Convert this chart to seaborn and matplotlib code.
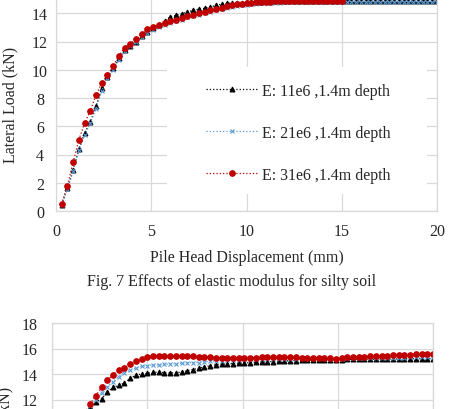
import matplotlib
matplotlib.use('Agg')
import matplotlib.pyplot as plt
from matplotlib.patches import Rectangle
import seaborn as sns

# Fig. 7 - silty soil, 1.4m depth
x_top = [0.3, 0.6, 0.9, 1.2, 1.5, 1.8, 2.1, 2.4, 2.7, 3.0,
         3.3, 3.6, 3.9, 4.2, 4.5, 4.8, 5.1, 5.4, 5.7, 6.0,
         6.3, 6.6, 6.9, 7.2, 7.5, 7.8, 8.1, 8.4, 8.7, 9.0,
         9.25, 9.5, 9.75, 10.0, 10.25, 10.5, 10.75, 11.0, 11.25, 11.5,
         11.75, 12.0, 12.25, 12.5, 12.75, 13.0, 13.25, 13.5, 13.75, 14.0,
         14.25, 14.5, 14.75, 15.0, 15.25, 15.5, 15.75, 16.0, 16.25, 16.5,
         16.75, 17.0, 17.25, 17.5, 17.75, 18.0, 18.25, 18.5, 18.75, 19.0,
         19.25, 19.5, 19.75, 20.0]

top_e11 = [0.45, 1.6, 2.9, 4.4, 5.5, 6.3, 7.4, 8.7, 9.5, 10.1,
           10.8, 11.4, 11.7, 12.0, 12.4, 12.7, 12.95, 13.2, 13.45, 13.75,
           13.85, 13.95, 14.1, 14.2, 14.3, 14.35, 14.45, 14.55, 14.65, 14.7,
           14.72, 14.74, 14.76, 14.78, 14.8, 14.82, 14.83, 14.84, 14.85, 14.86,
           14.86, 14.87, 14.87, 14.87, 14.88, 14.88, 14.88, 14.88, 14.88, 14.88,
           14.87, 14.87, 14.87, 14.87, 14.87, 14.87, 14.87, 14.87, 14.87, 14.87,
           14.86, 14.86, 14.86, 14.86, 14.86, 14.86, 14.86, 14.86, 14.86, 14.86,
           14.86, 14.86, 14.86, 14.86]

top_e21 = [0.45, 1.55, 2.8, 4.3, 5.35, 6.2, 7.25, 8.5, 9.4, 10.0,
           10.7, 11.3, 11.65, 11.95, 12.35, 12.6, 12.8, 13.0, 13.15, 13.3,
           13.45, 13.55, 13.7, 13.8, 13.9, 14.0, 14.1, 14.2, 14.3, 14.4,
           14.45, 14.5, 14.55, 14.6, 14.64, 14.67, 14.7, 14.72, 14.74, 14.75,
           14.76, 14.77, 14.78, 14.78, 14.79, 14.79, 14.79, 14.8, 14.8, 14.8,
           14.8, 14.8, 14.79, 14.79, 14.8, 14.8, 14.8, 14.79, 14.79, 14.8,
           14.8, 14.8, 14.79, 14.79, 14.8, 14.8, 14.8, 14.79, 14.79, 14.8,
           14.8, 14.8, 14.8, 14.8]

top_e31 = [0.5, 1.8, 3.45, 5.05, 6.2, 7.1, 8.2, 9.05, 9.65, 10.25,
           11.0, 11.55, 11.85, 12.15, 12.55, 12.85, 13.0, 13.15, 13.3, 13.45,
           13.55, 13.65, 13.8, 13.9, 14.0, 14.1, 14.2, 14.3, 14.4, 14.5,
           14.58, 14.63, 14.68, 14.72, 14.75, 14.78, 14.8, 14.82, 14.83, 14.84,
           14.85, 14.86, 14.87, 14.87, 14.88, 14.88, 14.88, 14.88, 14.89, 14.89,
           14.89, 14.89, 14.9, 14.9]

# next figure (only the top part is visible)
x_bot = [0.2, 0.5, 0.8, 1.1, 1.4, 1.7,
         2.0, 2.3, 2.6, 2.9, 3.2, 3.5, 3.8, 4.1, 4.4, 4.7,
         5.0, 5.3, 5.6, 5.9, 6.2, 6.5, 6.8, 7.1, 7.4, 7.7,
         8.0, 8.3, 8.6, 8.9, 9.2, 9.5, 9.8, 10.1, 10.4, 10.7,
         11.0, 11.3, 11.6, 11.9, 12.2, 12.5, 12.8, 13.1, 13.4, 13.7,
         14.0, 14.3, 14.6, 14.9, 15.2, 15.5, 15.8, 16.1, 16.4, 16.7,
         17.0, 17.3, 17.6, 17.9, 18.2, 18.5, 18.8, 19.1, 19.4, 19.7, 20.0]

bot_e11 = [0.45, 2.3, 4.6, 6.8, 8.8, 10.5,
           11.4, 11.8, 12.05, 12.55, 12.95, 13.1, 13.3, 13.65, 13.92, 14.0,
           14.05, 14.12, 14.15, 14.1, 14.08, 14.1, 14.15, 14.25, 14.35, 14.45,
           14.55, 14.65, 14.72, 14.78, 14.8, 14.82, 14.85, 14.87, 14.9, 14.92,
           14.94, 14.96, 14.98, 15.0, 15.02, 15.04, 15.05, 15.06, 15.08, 15.1,
           15.1, 15.11, 15.12, 15.12, 15.13, 15.14, 15.14, 15.15, 15.15, 15.16,
           15.16, 15.17, 15.17, 15.18, 15.18, 15.19, 15.19, 15.2, 15.2, 15.2, 15.2]

bot_e21 = [0.45, 2.4, 4.8, 7.0, 9.0, 10.6,
           11.5, 12.0, 12.5, 13.0, 13.4, 13.8, 14.1, 14.3, 14.45, 14.6,
           14.65, 14.7, 14.72, 14.75, 14.78, 14.8, 14.85, 14.88, 14.9, 14.9,
           14.95, 15.0, 15.02, 15.05, 15.07, 15.1, 15.12, 15.14, 15.15, 15.16,
           15.17, 15.18, 15.19, 15.2, 15.2, 15.21, 15.21, 15.22, 15.22, 15.22,
           15.22, 15.22, 15.2, 15.18, 15.2, 15.24, 15.25, 15.25, 15.26, 15.26,
           15.27, 15.27, 15.28, 15.28, 15.29, 15.29, 15.3, 15.3, 15.3, 15.31, 15.3]

bot_e31 = [0.5, 2.5, 5.0, 7.2, 9.2, 10.9,
           11.65, 12.3, 12.95, 13.5, 13.95, 14.3, 14.5, 14.75, 15.05, 15.2,
           15.32, 15.38, 15.4, 15.4, 15.38, 15.38, 15.42, 15.4, 15.38, 15.35,
           15.33, 15.3, 15.28, 15.28, 15.27, 15.25, 15.25, 15.26, 15.27, 15.28,
           15.3, 15.3, 15.32, 15.33, 15.33, 15.32, 15.3, 15.28, 15.27, 15.27,
           15.26, 15.25, 15.22, 15.2, 15.25, 15.32, 15.35, 15.36, 15.37, 15.38,
           15.4, 15.42, 15.44, 15.46, 15.48, 15.5, 15.52, 15.53, 15.54, 15.55, 15.53]

labels = ['E: 11e6 ,1.4m depth', 'E: 21e6 ,1.4m depth', 'E: 31e6 ,1.4m depth']
x_ticks = [0, 5, 10, 15, 20]
top_y_ticks = [0, 2, 4, 6, 8, 10, 12, 14, 16]
top_y_labels = ['0', '2', '4', '6', '8', '10', '12', '14', '']
bot_y_ticks = [0, 2, 4, 6, 8, 10, 12, 14, 16, 18]
bot_y_labels = ['', '', '', '', '', '', '12', '14', '16', '18']

colors = ['#000000', '#5b9bd5', '#c00000']
markers = ['^', 'x', 'o']
msizes = [3.5, 3.5, 4]

sns.set_style('white')
plt.rcParams['font.family'] = ['Liberation Serif', 'DejaVu Serif']
text_color = '#262626'
grid_color = '#d9d9d9'
fs = 11.5

fig = plt.figure(figsize=(4.61, 4.10), dpi=100)
ax1 = fig.add_axes([56 / 461, (410 - 212) / 410, 381 / 461, 226 / 410])
ax2 = fig.add_axes([52 / 461, (410 - 553.5) / 410, 381 / 461, 229.5 / 410])


def draw(ax, xs, series, with_labels):
    for i, ys in enumerate(series):
        sns.lineplot(x=xs[:len(ys)], y=ys, ax=ax, color=colors[i],
                     marker=markers[i], markersize=msizes[i],
                     markeredgecolor=colors[i], markeredgewidth=0.8,
                     linestyle=':', linewidth=0.9, errorbar=None,
                     label=labels[i] if with_labels else None)
    ax.set_xlim(0, 20)
    ax.grid(True, color=grid_color, linewidth=0.9)
    ax.set_axisbelow(True)
    for sp in ax.spines.values():
        sp.set_color(grid_color)
        sp.set_linewidth(0.9)
    ax.tick_params(length=0, labelsize=fs, colors=text_color)


draw(ax1, x_top, [top_e11, top_e21, top_e31], True)
ax1.set_ylim(0, 16)
ax1.set_xticks(x_ticks)
ax1.set_yticks(top_y_ticks, top_y_labels)
ax1.tick_params(axis='x', pad=9)
ax1.tick_params(axis='y', pad=11.5)
for t in ax1.get_yticklabels():
    t.set_ha('center')
ax1.set_xlabel('Pile Head Displacement (mm)', fontsize=fs, color=text_color, labelpad=7)
ax1.set_ylabel('Lateral Load (kN)', fontsize=fs, color=text_color)
ax1.yaxis.set_label_coords(-0.1, 0.473)

# white legend area hiding the grid, like the Excel chart
ax1.add_patch(Rectangle((0.291, 0.075), 0.683, 0.562, transform=ax1.transAxes,
                        facecolor='white', edgecolor='none', zorder=1))
leg = ax1.legend(loc='center', bbox_to_anchor=(0.636, 0.346), frameon=False,
                 fontsize=fs, labelspacing=1.63, handlelength=3.2,
                 handletextpad=0.3)
for t in leg.get_texts():
    t.set_color(text_color)

draw(ax2, x_bot, [bot_e11, bot_e21, bot_e31], False)
ax2.set_ylim(0, 18)
ax2.set_xticks(x_ticks, [''] * len(x_ticks))
ax2.set_yticks(bot_y_ticks, bot_y_labels)
ax2.tick_params(axis='y', pad=15.8)
for t in ax2.get_yticklabels():
    t.set_ha('center')
ax2.set_ylabel('Lateral Load (kN)', fontsize=fs, color=text_color)
ax2.yaxis.set_label_coords(-0.102, 0.473)
if ax2.get_legend() is not None:
    ax2.get_legend().remove()

fig.text(232 / 461, 1 - 282 / 410, 'Fig. 7 Effects of elastic modulus for silty soil',
         ha='center', va='center', fontsize=fs, color=text_color)

plt.savefig('out.png', dpi=100)
